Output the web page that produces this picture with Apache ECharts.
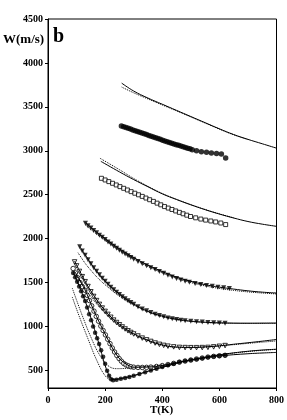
<!DOCTYPE html>
<html><head><meta charset="utf-8">
<script src="https://cdn.jsdelivr.net/npm/echarts@6/dist/echarts.min.js"></script>
<style>html,body{margin:0;padding:0;background:#fff}#c{width:287px;height:420px}</style>
</head><body><div id="c"></div>
<script>
// ---- data (T in K, W in m/s) ----
const yTicks = [500,1000,1500,2000,2500,3000,3500,4000,4500];
const xTicks = [0,200,400,600,800];

// group 1: filled circles (top)
const g1Data = [[257,3283],[265,3274],[273,3265],[281,3256],[289,3247],[297,3238],[305,3229],[313,3220],[321,3211],[329,3202],[337,3193],[345,3184],[353,3175],[361,3166],[369,3157],[377,3148],[385,3139],[393,3130],[401,3121],[409,3112],[417,3103],[425,3094],[433,3086],[441,3078],[449,3070],[457,3062],[465,3054],[473,3046],[481,3038],[489,3030],[497,3022],[505,3012],[520,3001],[537,2990],[555,2983],[572,2975],[590,2970],[607,2962],[622,2918]];
const g1Solid = [[258,3770],[300,3680],[350,3600],[400,3530],[450,3460],[500,3390],[550,3320],[600,3250],[650,3185],[700,3130],[750,3080],[800,3030]];
const g1Dot = [[258,3725],[300,3660],[350,3590],[400,3522],[450,3454],[500,3385],[550,3316],[600,3247],[650,3182],[700,3128]];

// group 2: open squares
const g2Data = [[187,2687],[200,2668],[213,2649],[226,2630],[239,2611],[252,2592],[265,2573],[278,2554],[291,2535],[304,2517],[317,2499],[330,2481],[343,2462],[356,2443],[369,2424],[382,2404],[395,2385],[408,2365],[421,2348],[434,2332],[447,2315],[460,2299],[473,2283],[486,2267],[499,2252],[517,2237],[535,2223],[552,2211],[570,2201],[587,2190],[605,2178],[622,2160]];
const g2Solid = [[185,2880],[250,2760],[300,2672],[350,2590],[400,2510],[450,2445],[500,2385],[550,2330],[600,2280],[650,2235],[700,2195],[750,2165],[800,2140]];
const g2Dot = [[182,2915],[250,2785],[300,2685],[350,2596],[400,2514],[450,2448],[500,2388],[550,2332],[600,2282],[650,2237]];

// group 3
const g3Data = [[131,2175],[140,2148],[150,2120],[160,2093],[170,2066],[180,2040],[190,2015],[200,1990],[210,1962],[220,1938],[230,1913],[240,1890],[250,1868],[260,1846],[270,1825],[280,1805],[290,1785],[300,1765],[315,1740],[330,1715],[345,1692],[360,1670],[375,1648],[390,1627],[405,1605],[420,1584],[435,1563],[450,1545],[465,1528],[480,1515],[495,1503],[515,1490],[535,1478],[555,1468],[575,1458],[595,1448],[615,1440],[635,1432]];
const g3Solid = [[131,2185],[160,2100],[200,2000],[250,1885],[300,1785],[350,1698],[400,1625],[450,1562],[500,1514],[550,1476],[600,1448],[650,1426],[700,1406],[750,1391],[800,1381]];
const g3Dot = [[131,2155],[160,2078],[200,1982],[250,1866],[300,1768],[350,1683],[400,1610],[450,1548],[500,1500],[550,1462],[600,1433],[650,1411],[700,1394],[750,1381],[800,1371]];

// group 4
const g4Data = [[111,1907],[120,1860],[130,1810],[140,1760],[150,1715],[160,1670],[170,1628],[180,1588],[190,1550],[200,1515],[210,1480],[220,1448],[230,1418],[240,1390],[250,1363],[260,1338],[270,1315],[280,1293],[290,1272],[300,1252],[315,1225],[330,1200],[345,1178],[360,1158],[375,1140],[390,1124],[405,1110],[420,1098],[435,1088],[450,1079],[465,1072],[480,1066],[500,1060],[520,1055],[540,1050],[560,1046],[580,1043],[600,1040],[620,1038]];
const g4Solid = [[111,1910],[130,1818],[150,1720],[175,1610],[200,1518],[250,1368],[300,1256],[350,1172],[400,1118],[450,1083],[500,1061],[550,1049],[600,1042],[700,1038],[800,1040]];
const g4Dot = [[105,1840],[130,1720],[150,1640],[175,1550],[200,1475],[250,1345],[300,1245],[350,1165],[400,1112],[450,1078],[500,1057],[550,1045],[600,1038],[700,1034],[800,1035]];

// group 5: open triangles
const g5Data = [[93,1735],[100,1690],[110,1627],[120,1567],[130,1510],[140,1455],[150,1395],[160,1342],[170,1295],[180,1252],[190,1210],[200,1172],[210,1138],[220,1105],[230,1073],[240,1045],[250,1020],[260,995],[270,972],[280,951],[290,932],[300,915],[315,892],[330,868],[345,848],[360,830],[375,812],[390,797],[405,785],[420,776],[440,768],[460,762],[480,760],[500,759],[520,759],[540,760],[560,762],[580,768],[600,775],[620,783]];
const g5Solid = [[93,1745],[120,1575],[150,1405],[200,1180],[250,1025],[300,918],[350,843],[400,790],[450,766],[500,762],[550,768],[600,780],[650,798],[700,815],[750,833],[800,852]];
const g5Dot = [[90,1620],[120,1480],[150,1340],[200,1150],[250,1010],[300,910],[350,838],[400,786],[450,763],[500,760],[550,765],[600,778],[650,793],[700,808],[750,822],[800,835]];

// group 6: open circles
const g6Data = [[88,1660],[96,1610],[104,1555],[112,1500],[120,1455],[129,1413],[137,1355],[145,1295],[153,1235],[161,1175],[169,1115],[177,1060],[185,1005],[193,955],[201,905],[209,855],[217,805],[225,755],[233,710],[241,670],[249,635],[257,605],[265,580],[273,563],[281,552],[290,542],[300,537],[315,534],[330,534],[345,535],[360,538],[380,545],[400,555],[420,567],[440,580],[460,594],[480,607],[500,618],[520,630],[540,641],[560,652],[580,660],[600,667],[620,672]];
const g6Solid = [[95,1620],[129,1420],[160,1185],[200,915],[245,655],[280,560],[300,538],[350,538],[400,555],[450,588],[500,620],[550,650],[600,678],[650,700],[700,718],[750,732],[800,741]];
const g6Dot = [[85,1437],[100,1300],[122,1107],[150,880],[180,680],[210,555],[240,520],[280,525],[350,545],[400,563],[450,590],[500,620],[600,675],[700,715],[800,740]];

// group 7: filled circles (bottom)
const g7Data = [[88,1610],[95,1560],[102,1510],[109,1455],[116,1400],[123,1345],[130,1290],[137,1215],[144,1140],[151,1070],[158,1000],[165,930],[172,865],[179,800],[186,730],[193,655],[200,575],[207,495],[214,440],[221,400],[228,387],[240,395],[255,405],[270,415],[285,425],[300,440],[320,460],[340,480],[360,500],[380,520],[400,540],[420,558],[440,577],[460,595],[480,607],[500,618],[520,628],[540,640],[560,650],[580,658],[600,665],[620,672]];
const g7Solid = [[90,1600],[129,1300],[175,840],[210,470],[232,395],[260,410],[300,440],[360,500],[400,535],[460,590],[500,615],[560,648],[600,665],[700,690],[800,705]];
const g7Dot = [[85,1335],[110,1110],[140,860],[170,620],[200,440],[222,398],[260,412],[300,442],[360,502],[400,537],[460,591]];

// ---- chart ----
const chart = echarts.init(document.getElementById('c'), null, {renderer:'canvas'});
const FONT = 'Liberation Serif';
function scat(data, symbol, size, filled, rot) {
  return {type:'scatter', data, symbol, symbolSize:size, symbolRotate:rot||0, z:2,
    itemStyle: filled ? {color:'#000', borderColor:'#000', borderWidth:0}
                      : {color:'#fff', borderColor:'#000', borderWidth:1},
    emphasis:{disabled:true}, silent:true};
}
function line(data, dotted) {
  return {type:'line', data, showSymbol:false, smooth:0.4, z:3, silent:true,
    lineStyle:{color:'#000', width:1, type: dotted ? 'dotted' : 'solid'}};
}
const plain = v => String(v);
chart.setOption({
  animation:false,
  backgroundColor:'#fff',
  grid:{left:48, top:19, right:10, bottom:32, show:true, borderColor:'#000', borderWidth:1, backgroundColor:'transparent'},
  xAxis:{type:'value', min:0, max:800, interval:200,
    axisLine:{show:true, lineStyle:{color:'#000', width:1}},
    axisTick:{show:true, length:3, inside:false, lineStyle:{color:'#000'}},
    axisLabel:{color:'#000', fontFamily:FONT, fontWeight:'bold', fontSize:10, margin:7, formatter:plain, customValues:xTicks},
    splitLine:{show:false}},
  yAxis:{type:'value', min:300, max:4500,
    axisLine:{show:true, lineStyle:{color:'#000', width:1}},
    axisTick:{show:true, length:3, inside:false, customValues:yTicks, lineStyle:{color:'#000'}},
    axisLabel:{color:'#000', fontFamily:FONT, fontWeight:'bold', fontSize:10, margin:5, formatter:plain, customValues:yTicks},
    splitLine:{show:false}},
  graphic:[
    {type:'text', left:3, top:33, style:{text:'W(m/s)', fill:'#000', font:'bold 13px "Liberation Serif"'}},
    {type:'text', left:53, top:27, style:{text:'b', fill:'#000', font:'bold 20px "Liberation Serif"'}},
    {type:'text', left:150, top:405, style:{text:'T(K)', fill:'#000', font:'bold 11px "Liberation Serif"'}}
  ],
  series:[
    scat(g1Data,'circle',5.5,true),
    scat(g2Data,'rect',4,false),
    scat(g3Data,'triangle',5,true,180),
    scat(g4Data,'triangle',5,true,180),
    scat(g5Data,'triangle',4.5,false,180),
    scat(g6Data,'circle',4.5,false),
    scat(g7Data,'circle',4.5,true),
    line(g1Solid,false), line(g1Dot,true),
    line(g2Solid,false), line(g2Dot,true),
    line(g3Solid,false), line(g3Dot,true),
    line(g4Solid,false), line(g4Dot,true),
    line(g5Solid,false), line(g5Dot,true),
    line(g6Solid,false), line(g6Dot,true),
    line(g7Solid,false), line(g7Dot,true)
  ]
});
</script></body></html>
